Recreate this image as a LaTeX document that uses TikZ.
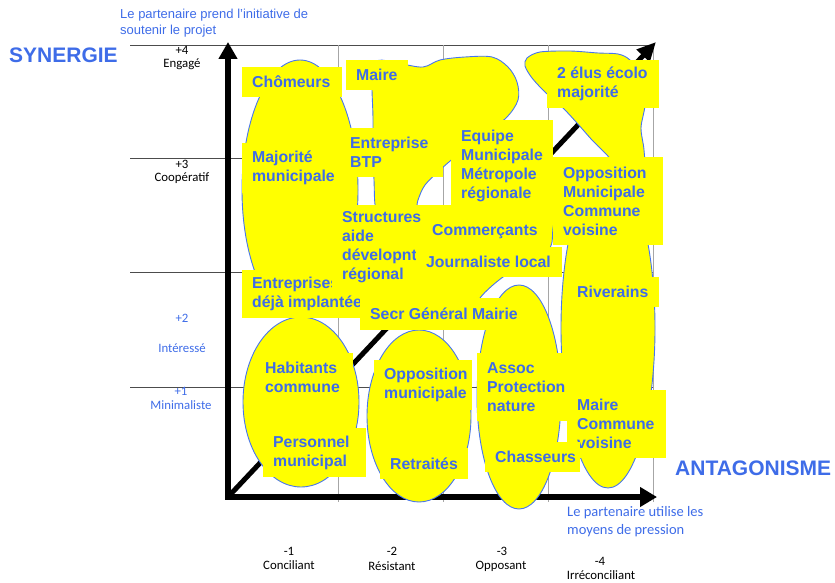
\documentclass[tikz,border=0pt]{standalone}
\usepackage{fontspec}
\setmainfont{Liberation Sans}
\newfontfamily\calib{Carlito}
\usetikzlibrary{arrows.meta}

\definecolor{txtblue}{RGB}{62,108,232}
\definecolor{lineblue}{RGB}{72,118,238}
\definecolor{blobyellow}{RGB}{255,255,0}

\newcommand\boxfont{\fontsize{15.8pt}{19pt}\selectfont\bfseries}
\newcommand\scalefont{\calib\fontsize{12.8pt}{14pt}\selectfont}

% yellow label: name, x, y (north west corner), width, height, text
\newcommand\yellowtag[6]{%
  \node[tagback, minimum width=#4pt, minimum height=#5pt] (#1) at (#2,#3) {};
  \node[tagtext] (#1-txt) at ([xshift=10pt]#1.west) {#6};
}

\tikzset{
  tagback/.style={fill=blobyellow, draw=none, anchor=north west, inner sep=0pt, outer sep=0pt},
  tagtext/.style={anchor=west, inner sep=0pt, align=left, font=\boxfont, text=txtblue},
  blob/.style={fill=blobyellow, draw=lineblue, line width=0.9pt},
  gridh/.style={draw=black!70, line width=0.8pt},
  gridv/.style={draw=black!35, line width=0.8pt},
  axis/.style={draw=black, line width=5.5pt, line join=miter},
  scalelab/.style={inner sep=0pt, font=\scalefont, text=black},
  scaleblue/.style={inner sep=0pt, font=\scalefont, text=txtblue},
  note/.style={inner sep=0pt, anchor=west, font=\fontsize{13pt}{15pt}\selectfont, text=txtblue},
  pressnote/.style={inner sep=0pt, anchor=west, font=\calib\fontsize{14.5pt}{17pt}\selectfont, text=txtblue},
  bigword/.style={inner sep=0pt, anchor=west, font=\fontsize{21pt}{25pt}\selectfont\bfseries, text=txtblue},
}

\begin{document}
\begin{tikzpicture}[x=1pt,y=-1pt]
\useasboundingbox (0,0) rectangle (835,583);

% ---- grid ----
\foreach \yy in {45,158,272,387} \draw[gridh] (130,\yy) -- (653,\yy);
\foreach \xx in {338,443,548,653} \draw[gridv] (\xx,45) -- (\xx,502);

% ---- axes ----
\coordinate (O) at (228,497);
\coordinate (Ytop) at (228,42);
\coordinate (Xend) at (657,497);
\coordinate (Dend) at (656,42);
\draw[axis, {Triangle[length=17pt,width=18pt]}-{Triangle[length=17pt,width=19pt]}] (Ytop) -- (O) -- (Xend);
\draw[draw=black, line width=5pt, -{Triangle[length=19pt,width=17pt]}] (O) -- (Dend);

% ---- groups ----
\filldraw[blob] (300,190) ellipse [x radius=58pt, y radius=130pt];
\filldraw[blob] plot[smooth cycle, tension=0.55] coordinates {(374,64) (400,64) (423,67) (440,60) (465,57) (492,57) (508,67) (517,82) (518,100) (506,118) (480,138) (455,157) (440,170) (425,185) (418,200) (414,215) (395,222) (377,212) (374,180) (373,120)};
\filldraw[blob] plot[smooth cycle, tension=0.5] coordinates {(365,215) (420,207) (470,206) (520,206) (548,200) (556,208) (553,228) (550,248) (530,262) (503,277) (480,298) (470,322) (440,328) (390,328) (366,318) (360,290) (358,240)};
\filldraw[blob] (608,328) ellipse [x radius=47pt, y radius=160pt];
\filldraw[blob] plot[smooth cycle, tension=0.5] coordinates {(527,58) (540,52) (570,51) (598,53) (618,54) (630,60) (644,78) (645,105) (641,128) (644,150) (643,168) (620,168) (607,155) (592,140) (577,123) (563,108) (545,92) (532,78) (525,66)};
\filldraw[blob] (301,402) ellipse [x radius=58pt, y radius=85pt];
\filldraw[blob] (419,416) ellipse [x radius=52pt, y radius=86pt];
\filldraw[blob] (519,397) ellipse [x radius=42pt, y radius=112pt];

% ---- labels ----
\yellowtag{chom}{242}{67}{100}{30}{Chômeurs}
\yellowtag{maire}{346}{60}{62}{30}{Maire}
\yellowtag{major}{242}{143}{103}{50}{Majorité\\municipale}
\yellowtag{btp}{340}{128}{103}{49}{Entreprise\\BTP}
\yellowtag{equipe}{451}{120}{102}{92}{Equipe\\Municipale\\Métropole\\régionale}
\yellowtag{elus}{547}{60}{112}{48}{2 élus écolo\\majorité}
\yellowtag{oppmc}{553}{157}{110}{88}{Opposition\\Municipale\\Commune\\voisine}
\yellowtag{entr}{242}{270}{128}{48}{Entreprises\\déjà implantées}
\yellowtag{struct}{332}{205}{119}{84}{Structures\\aide\\dévelopnt\\régional}
\yellowtag{comm}{422}{218}{128}{28}{Commerçants}
\yellowtag{journ}{416}{247}{146}{30}{Journaliste local}
\yellowtag{secr}{360}{298}{165}{32}{Secr Général Mairie}
\yellowtag{habit}{255}{353}{98}{48}{Habitants\\commune}
\yellowtag{perso}{263}{428}{103}{49}{Personnel\\municipal}
\yellowtag{oppmu}{374}{360}{98}{50}{Opposition\\municipale}
\yellowtag{retr}{380}{448}{88}{31}{Retraités}
\yellowtag{river}{567}{277}{92}{30}{Riverains}
\yellowtag{assoc}{477}{353}{90}{68}{Assoc\\Protection\\nature}
\yellowtag{mairecv}{567}{390}{99}{68}{Maire\\Commune\\voisine}
\yellowtag{chass}{485}{442}{95}{30}{Chasseurs}

% ---- scale on the vertical axis ----
\node[scalelab] (v4) at (182,50) {+4};
\node[scalelab] (v4t) at (182,64) {Engagé};
\node[scalelab] (v3) at (182,164) {+3};
\node[scalelab] (v3t) at (182,178) {Coopératif};
\node[scaleblue] (v2) at (182,318) {+2};
\node[scaleblue] (v2t) at (182,348) {Intéressé};
\node[scaleblue] (v1) at (181,391) {+1};
\node[scaleblue] (v1t) at (181,405) {Minimaliste};

% ---- scale on the horizontal axis ----
\node[scalelab] (h1) at (289,551) {-1};
\node[scalelab] (h1t) at (289,565) {Conciliant};
\node[scalelab] (h2) at (392,551) {-2};
\node[scalelab] (h2t) at (392,566) {Résistant};
\node[scalelab] (h3) at (502,551) {-3};
\node[scalelab] (h3t) at (501,566) {Opposant};
\node[scalelab] (h4) at (600,561) {-4};
\node[scalelab] (h4t) at (601,575) {Irréconciliant};

% ---- titles and notes ----
\node[note] (topnote1) at (120,15) {Le partenaire prend l'initiative de};
\node[note] (topnote2) at (120,31) {soutenir le projet};
\node[bigword] (syn) at (9,55) {SYNERGIE};
\node[bigword] (ant) at (675,468) {ANTAGONISME};
\node[pressnote] (press1) at (567,513) {Le partenaire utilise les};
\node[pressnote] (press2) at (567,531) {moyens de pression};
\end{tikzpicture}
\end{document}
